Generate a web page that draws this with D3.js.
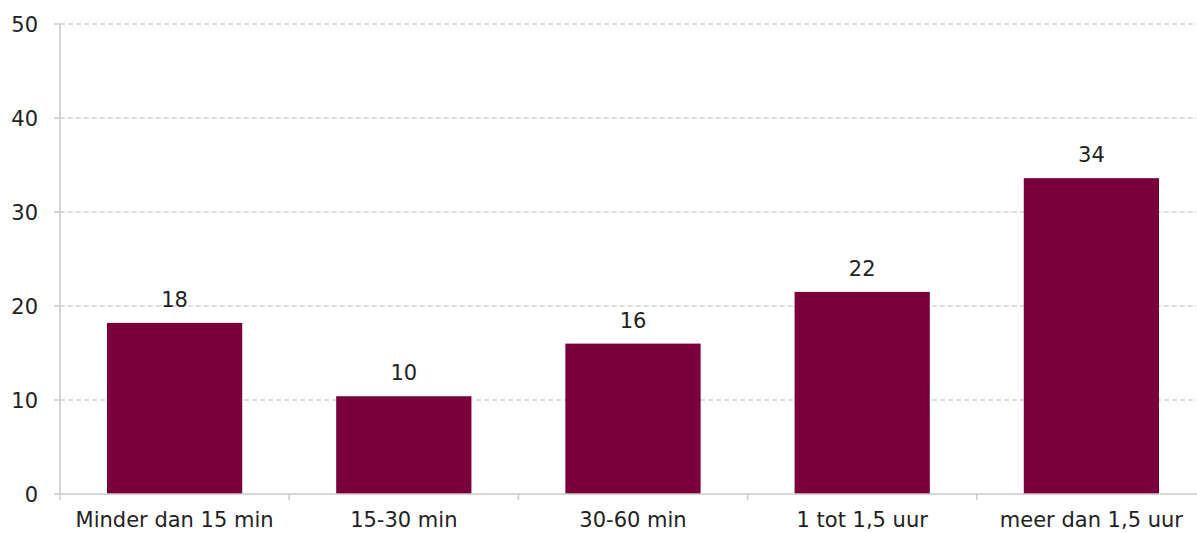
<!DOCTYPE html>
<html>
<head>
<meta charset="UTF-8">
<script src="https://d3js.org/d3.v7.min.js"></script>
<style>
  body { margin: 0; background: #fff; }
  svg { display: block; }
  text { font-family: "DejaVu Sans", sans-serif; fill: #222; }
</style>
</head>
<body>
<svg id="chart" width="1197" height="533"></svg>
<script>
const categories = ["Minder dan 15 min", "15-30 min", "30-60 min", "1 tot 1,5 uur", "meer dan 1,5 uur"];
const values = [18.2, 10.4, 16.0, 21.5, 33.6];
const labels = ["18", "10", "16", "22", "34"];
const yTicks = [0, 10, 20, 30, 40, 50];

const svg = d3.select("#chart");
const plotLeft = 60, plotRight = 1206, plotTop = 24, plotBottom = 494;

const x = d3.scaleBand().domain(categories).range([plotLeft, plotRight]).paddingInner(0.41).paddingOuter(0.205);
const xb = d3.scaleBand().domain(categories).range([plotLeft, plotRight]);
const y = d3.scaleLinear().domain([0, 50]).range([plotBottom, plotTop]);

// gridlines
svg.append("g")
  .selectAll("line")
  .data(yTicks.filter(d => d > 0))
  .join("line")
  .attr("x1", plotLeft).attr("x2", 1197)
  .attr("y1", d => y(d)).attr("y2", d => y(d))
  .attr("stroke", "#bbb")
  .attr("stroke-dasharray", "5,3");

// y axis
svg.append("line")
  .attr("x1", plotLeft).attr("x2", plotLeft)
  .attr("y1", plotTop).attr("y2", plotBottom)
  .attr("stroke", "#c8c8c8").attr("stroke-width", 1.5);

svg.append("g")
  .selectAll("line")
  .data(yTicks)
  .join("line")
  .attr("x1", plotLeft - 6).attr("x2", plotLeft)
  .attr("y1", d => y(d)).attr("y2", d => y(d))
  .attr("stroke", "#c8c8c8").attr("stroke-width", 1.5);

svg.append("g")
  .selectAll("text")
  .data(yTicks)
  .join("text")
  .attr("x", 38)
  .attr("y", d => y(d))
  .attr("dy", "0.36em")
  .attr("text-anchor", "end")
  .attr("font-size", 21)
  .text(d => d);

// bars
svg.append("g")
  .selectAll("rect")
  .data(values)
  .join("rect")
  .attr("x", (d, i) => x(categories[i]))
  .attr("width", x.bandwidth())
  .attr("y", d => y(d))
  .attr("height", d => plotBottom - y(d))
  .attr("fill", "#7a003c");

// x axis
svg.append("line")
  .attr("x1", plotLeft).attr("x2", 1197)
  .attr("y1", plotBottom).attr("y2", plotBottom)
  .attr("stroke", "#c8c8c8").attr("stroke-width", 1.5);

svg.append("g")
  .selectAll("line")
  .data(categories)
  .join("line")
  .attr("x1", d => xb(d)).attr("x2", d => xb(d))
  .attr("y1", plotBottom).attr("y2", plotBottom + 6)
  .attr("stroke", "#c8c8c8").attr("stroke-width", 1.5);

svg.append("g")
  .selectAll("text")
  .data(categories)
  .join("text")
  .attr("x", d => xb(d) + xb.bandwidth() / 2)
  .attr("y", 527)
  .attr("text-anchor", "middle")
  .attr("font-size", 21)
  .text(d => d);

// value labels
svg.append("g")
  .selectAll("text")
  .data(values)
  .join("text")
  .attr("x", (d, i) => x(categories[i]) + x.bandwidth() / 2)
  .attr("y", d => y(d) - 16)
  .attr("text-anchor", "middle")
  .attr("font-size", 21)
  .text((d, i) => labels[i]);
</script>
</body>
</html>
